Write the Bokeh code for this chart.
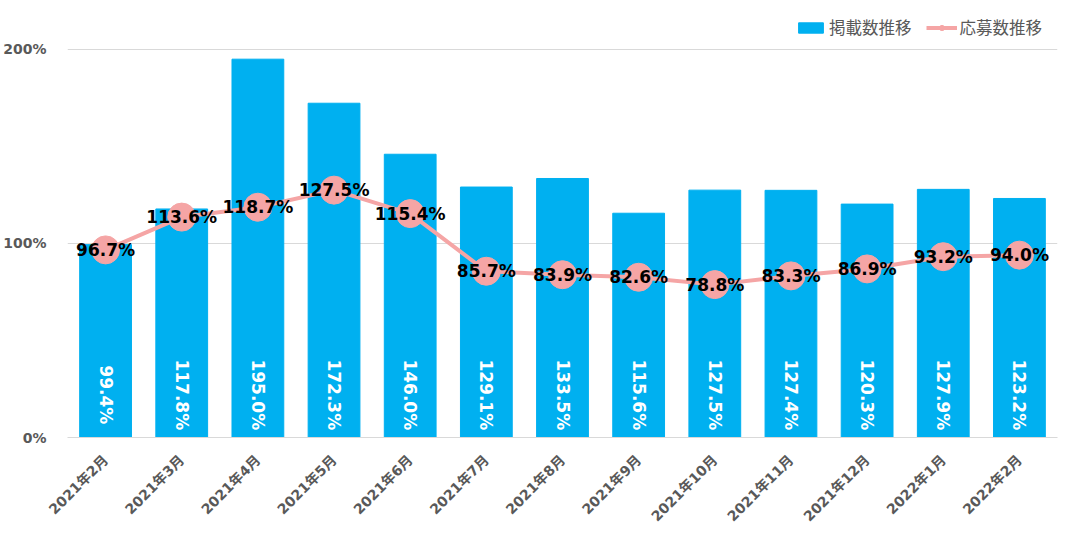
import math
from bokeh.plotting import figure
from bokeh.models import ColumnDataSource, Legend, LegendItem, FixedTicker, CustomJSTickFormatter, Range1d
from bokeh.core.properties import value
from bokeh.embed import file_html
from bokeh.resources import INLINE

months = ["2021年2月", "2021年3月", "2021年4月", "2021年5月", "2021年6月", "2021年7月",
          "2021年8月", "2021年9月", "2021年10月", "2021年11月", "2021年12月", "2022年1月", "2022年2月"]
listings = [99.4, 117.8, 195.0, 172.3, 146.0, 129.1, 133.5, 115.6, 127.5, 127.4, 120.3, 127.9, 123.2]
applications = [96.7, 113.6, 118.7, 127.5, 115.4, 85.7, 83.9, 82.6, 78.8, 83.3, 86.9, 93.2, 94.0]
y_ticks = [0, 100, 200]

BAR = "#00B0F0"
PINK = "#F5A5A5"
GRAY = "#595959"
FONT = "DejaVu Sans, 'Noto Sans CJK JP'"

src = ColumnDataSource(dict(
    m=months, bar=listings, line=applications,
    bar_lbl=[f"{v:.1f}%" for v in listings],
    line_lbl=[f"{v:.1f}%" for v in applications],
    lbl_y=[22] * len(months),
))

p = figure(x_range=months, y_range=Range1d(0, 217), width=1062, height=533,
           output_backend="svg", toolbar_location=None,
           min_border_left=67, min_border_right=5, min_border_top=16, min_border_bottom=96)
p.outline_line_color = None

bars = p.vbar(x="m", top="bar", width=0.68, color=BAR, source=src)
p.text(x="m", y="lbl_y", text="bar_lbl", angle=-math.pi / 2, text_align="center",
       text_baseline="middle", text_color="white", text_font=value(FONT),
       text_font_size="17px", text_font_style="bold", source=src)

p.line(x="m", y="line", line_color=PINK, line_width=4, source=src)
p.scatter(x="m", y="line", size=28, color=PINK, source=src)
p.text(x="m", y="line", text="line_lbl", text_align="center", text_baseline="middle",
       text_color="black", text_font=value(FONT), text_font_size="17px",
       text_font_style="bold", source=src)

# legend-only renderers (no visible data)
dummy = ColumnDataSource(dict(x=[months[0]], y=[float("nan")]))
lg_line = p.line(x="x", y="y", line_color=PINK, line_width=4, source=dummy)
lg_dot = p.scatter(x="x", y="y", size=10, color=PINK, source=dummy)

legend = Legend(items=[LegendItem(label="掲載数推移", renderers=[bars]),
                       LegendItem(label="応募数推移", renderers=[lg_line, lg_dot])],
                orientation="horizontal", location=(728, 398),
                label_text_font=FONT, label_text_font_size="16.5px", label_text_color=GRAY,
                label_standoff=3, glyph_width=31, glyph_height=13, spacing=14,
                padding=2, margin=0, border_line_color=None, background_fill_alpha=0)
p.add_layout(legend)

p.yaxis.ticker = FixedTicker(ticks=y_ticks)
p.yaxis.formatter = CustomJSTickFormatter(code="return tick + '%';")
p.yaxis.axis_line_color = None
p.yaxis.major_tick_line_color = None
p.yaxis.minor_tick_line_color = None
p.yaxis.major_label_text_font = FONT
p.yaxis.major_label_text_font_size = "14px"
p.yaxis.major_label_text_font_style = "bold"
p.yaxis.major_label_text_color = GRAY
p.yaxis.major_label_standoff = 15

p.xaxis.axis_line_color = "#D9D9D9"
p.xaxis.axis_line_width = 1
p.xaxis.major_tick_line_color = None
p.xaxis.minor_tick_line_color = None
p.xaxis.major_label_orientation = math.pi / 4
p.xaxis.major_label_text_font = FONT
p.xaxis.major_label_text_font_size = "14px"
p.xaxis.major_label_text_font_style = "bold"
p.xaxis.major_label_text_color = GRAY
p.xaxis.major_label_standoff = 14

p.xgrid.grid_line_color = None
p.ygrid.grid_line_color = "#D9D9D9"
p.ygrid.ticker = FixedTicker(ticks=y_ticks)

open("out.html", "w").write(file_html(p, INLINE))
